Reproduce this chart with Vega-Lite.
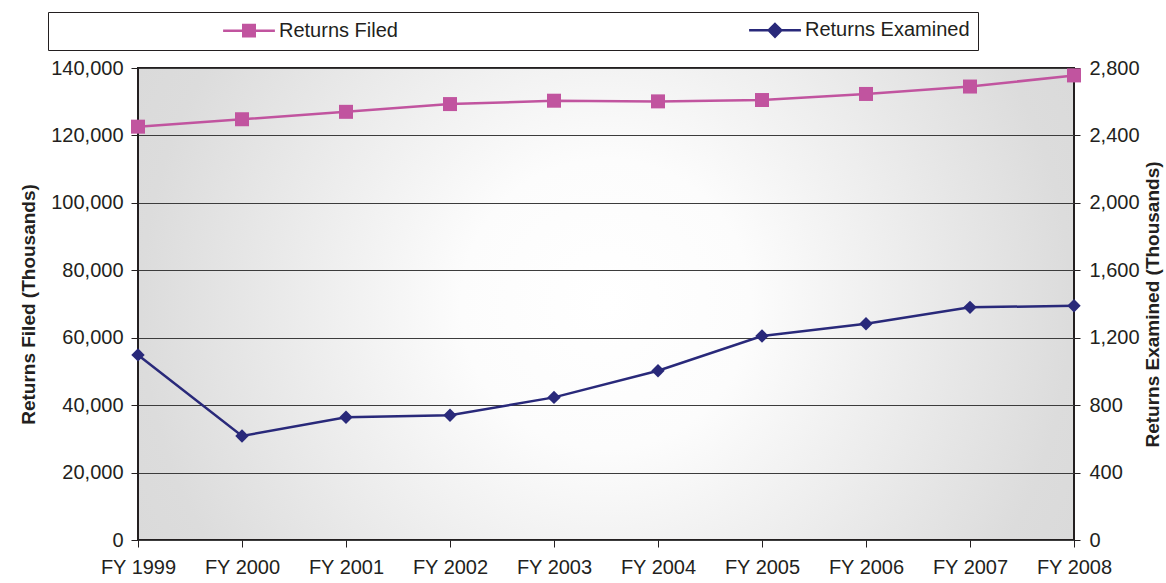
{
  "$schema": "https://vega.github.io/schema/vega-lite/v6.json",
  "width": 936,
  "height": 472,
  "autosize": {"type": "none"},
  "padding": {"left": 138, "top": 68, "right": 92, "bottom": 43},
  "background": "white",
  "view": {
    "stroke": "#231f20",
    "strokeWidth": 2,
    "fill": {
      "gradient": "radial",
      "x1": 0.5, "y1": 0.5, "r1": 0,
      "x2": 0.5, "y2": 0.5, "r2": 0.62,
      "stops": [
        {"offset": 0, "color": "#ffffff"},
        {"offset": 0.25, "color": "#fcfcfc"},
        {"offset": 0.8, "color": "#dcdcdc"},
        {"offset": 1, "color": "#d8d8d8"}
      ]
    }
  },
  "config": {
    "font": "Liberation Sans",
    "axis": {
      "labelFont": "Liberation Sans",
      "labelFontSize": 20,
      "labelColor": "#231f20",
      "titleFont": "Liberation Sans",
      "titleFontSize": 19,
      "titleFontWeight": "bold",
      "titleColor": "#231f20",
      "tickColor": "#231f20",
      "tickWidth": 1,
      "domain": false
    }
  },
  "data": {
    "values": [
      {"year": "FY 1999", "series": "Returns Filed", "value": 122600},
      {"year": "FY 2000", "series": "Returns Filed", "value": 124800},
      {"year": "FY 2001", "series": "Returns Filed", "value": 127000},
      {"year": "FY 2002", "series": "Returns Filed", "value": 129300},
      {"year": "FY 2003", "series": "Returns Filed", "value": 130300},
      {"year": "FY 2004", "series": "Returns Filed", "value": 130100},
      {"year": "FY 2005", "series": "Returns Filed", "value": 130500},
      {"year": "FY 2006", "series": "Returns Filed", "value": 132300},
      {"year": "FY 2007", "series": "Returns Filed", "value": 134500},
      {"year": "FY 2008", "series": "Returns Filed", "value": 137800},
      {"year": "FY 1999", "series": "Returns Examined", "value": 1098},
      {"year": "FY 2000", "series": "Returns Examined", "value": 617},
      {"year": "FY 2001", "series": "Returns Examined", "value": 728},
      {"year": "FY 2002", "series": "Returns Examined", "value": 740},
      {"year": "FY 2003", "series": "Returns Examined", "value": 846},
      {"year": "FY 2004", "series": "Returns Examined", "value": 1004},
      {"year": "FY 2005", "series": "Returns Examined", "value": 1210},
      {"year": "FY 2006", "series": "Returns Examined", "value": 1283},
      {"year": "FY 2007", "series": "Returns Examined", "value": 1380},
      {"year": "FY 2008", "series": "Returns Examined", "value": 1390}
    ]
  },
  "encoding": {
    "x": {
      "field": "year",
      "type": "ordinal",
      "sort": null,
      "scale": {"type": "point", "padding": 0},
      "axis": {
        "title": null,
        "labelAngle": 0,
        "tickSize": 7,
        "labelPadding": 10,
        "grid": false
      }
    }
  },
  "layer": [
    {
      "transform": [{"filter": "datum.series == 'Returns Filed'"}],
      "encoding": {
        "y": {
          "field": "value",
          "type": "quantitative",
          "scale": {"domain": [0, 140000], "nice": false},
          "axis": {
            "title": "Returns Filed (Thousands)",
            "values": [0, 20000, 40000, 60000, 80000, 100000, 120000, 140000],
            "format": ",d",
            "tickSize": 7,
            "labelPadding": 8,
            "titlePadding": 12,
            "grid": true,
            "gridColor": "#3c3c3c",
            "gridWidth": 1
          }
        }
      },
      "layer": [
        {
          "mark": {"type": "line", "strokeWidth": 2.5},
          "encoding": {
            "color": {
              "field": "series",
              "type": "nominal",
              "scale": {"domain": ["Returns Filed", "Returns Examined"], "range": ["#C1549F", "#29297A"]},
              "legend": null
            }
          }
        },
        {
          "mark": {"type": "point", "filled": true, "opacity": 1, "size": 196, "shape": "square"},
          "encoding": {
            "color": {"field": "series", "type": "nominal", "legend": null}
          }
        },
        {
          "mark": {"type": "point", "filled": false, "opacity": 0, "size": 196, "strokeWidth": 2.5},
          "encoding": {
            "color": {
              "field": "series",
              "type": "nominal",
              "legend": {
                "orient": "none",
                "legendX": -90,
                "legendY": -56,
                "direction": "horizontal",
                "title": "x",
                "titleOrient": "left",
                "titleColor": "transparent",
                "titleFontSize": 10,
                "titlePadding": 177,
                "strokeColor": "#231f20",
                "fillColor": "white",
                "padding": 8,
                "labelFont": "Liberation Sans",
                "labelFontSize": 20,
                "labelColor": "#231f20",
                "labelLimit": 0,
                "labelOffset": 20,
                "columnPadding": 346,
                "symbolSize": 196,
                "symbolOpacity": 1,
                "symbolStrokeWidth": 2.5,
                "labelExpr": "datum.label == 'Returns Examined' ? datum.label + '\u00a0\u00a0\u00a0\u00a0\u00a0\u00a0\u00a0\u00a0\u00a0\u00a0\u00a0\u00a0\u00a0\u00a0\u00a0\u00a0\u00a0\u00a0\u00a0\u00a0\u00a0\u00a0\u00a0\u00a0\u00a0\u00a0\u00a0\u00a0\u00a0\u00a0' : datum.label"
              }
            },
            "shape": {
              "field": "series",
              "type": "nominal",
              "scale": {
                "domain": ["Returns Filed", "Returns Examined"],
                "range": [
                  "M-3.7,0H3.7M-0.82,-0.82H0.82V0.82H-0.82ZM-0.5,-0.5H0.5V0.5H-0.5ZM-0.18,-0.18H0.18V0.18H-0.18Z",
                  "M-3.7,0H3.7M0,-0.9L0.9,0L0,0.9L-0.9,0ZM0,-0.5L0.5,0L0,0.5L-0.5,0ZM0,-0.15L0.15,0L0,0.15L-0.15,0Z"
                ]
              },
              "legend": {
                "orient": "none",
                "legendX": -90,
                "legendY": -56,
                "direction": "horizontal",
                "title": "x",
                "titleOrient": "left",
                "titleColor": "transparent",
                "titleFontSize": 10,
                "titlePadding": 177,
                "strokeColor": "#231f20",
                "fillColor": "white",
                "padding": 8,
                "labelFont": "Liberation Sans",
                "labelFontSize": 20,
                "labelColor": "#231f20",
                "labelLimit": 0,
                "labelOffset": 20,
                "columnPadding": 346,
                "symbolSize": 196,
                "symbolOpacity": 1,
                "symbolStrokeWidth": 2.5,
                "labelExpr": "datum.label == 'Returns Examined' ? datum.label + '\u00a0\u00a0\u00a0\u00a0\u00a0\u00a0\u00a0\u00a0\u00a0\u00a0\u00a0\u00a0\u00a0\u00a0\u00a0\u00a0\u00a0\u00a0\u00a0\u00a0\u00a0\u00a0\u00a0\u00a0\u00a0\u00a0\u00a0\u00a0\u00a0\u00a0' : datum.label"
              }
            }
          }
        }
      ],
      "resolve": {"legend": {"color": "independent", "shape": "independent"}}
    },
    {
      "transform": [{"filter": "datum.series == 'Returns Examined'"}],
      "encoding": {
        "y": {
          "field": "value",
          "type": "quantitative",
          "scale": {"domain": [0, 2800], "nice": false},
          "axis": {
            "orient": "right",
            "title": "Returns Examined (Thousands)",
            "values": [0, 400, 800, 1200, 1600, 2000, 2400, 2800],
            "format": ",d",
            "tickSize": 6,
            "labelPadding": 9,
            "titleAngle": 270,
            "titleBaseline": "top",
            "titlePadding": 4,
            "grid": false
          }
        }
      },
      "layer": [
        {
          "mark": {"type": "line", "strokeWidth": 2.5},
          "encoding": {
            "color": {"field": "series", "type": "nominal", "legend": null}
          }
        },
        {
          "mark": {"type": "point", "filled": true, "opacity": 1, "size": 180, "shape": "diamond"},
          "encoding": {
            "color": {"field": "series", "type": "nominal", "legend": null}
          }
        }
      ],
      "resolve": {"legend": {"color": "independent"}}
    }
  ],
  "resolve": {"scale": {"y": "independent"}, "legend": {"color": "independent", "shape": "independent"}}
}
